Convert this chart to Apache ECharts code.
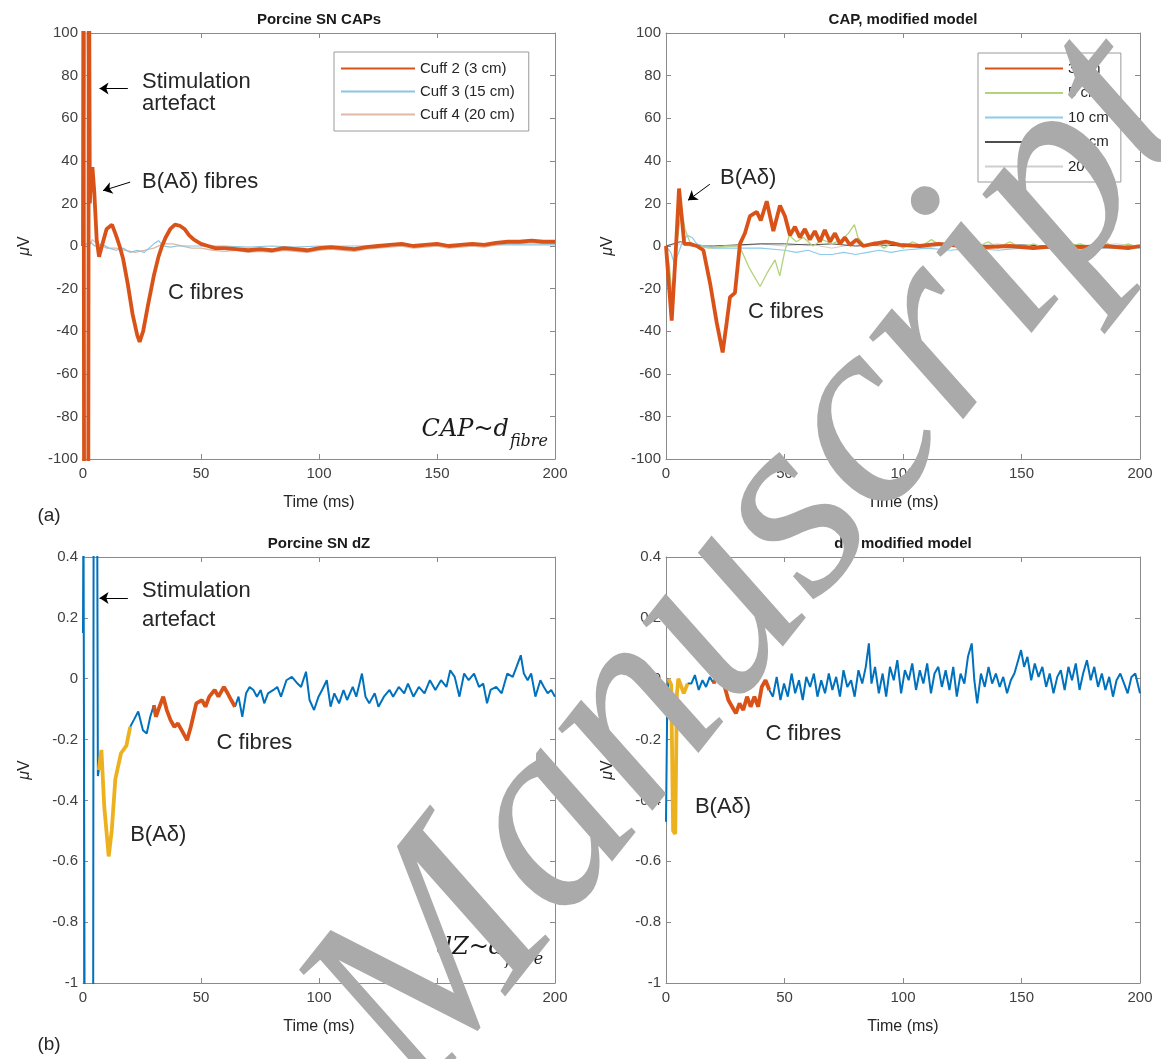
<!DOCTYPE html>
<html><head><meta charset="utf-8">
<script src="https://cdn.jsdelivr.net/npm/echarts@6/dist/echarts.min.js"></script>
<style>html,body{margin:0;padding:0;background:#fff}#c{width:1161px;height:1059px}</style>
</head><body><div id="c"></div>
<script>
// ---------- DATA ----------
const xTicks = [0, 50, 100, 150, 200];
const capTicks = [-100, -80, -60, -40, -20, 0, 20, 40, 60, 80, 100];
const dzTicks = [-1, -0.8, -0.6, -0.4, -0.2, 0, 0.2, 0.4];

// (a) left: Porcine SN CAPs
const cuff2 = [[0,0],[0.2,160],[0.5,-160],[2.2,-160],[2.5,160],[2.9,20],[3.5,35],[4,37],[4.8,25],[5.8,3],[6.8,-5],[8,0],[10,8],[12.3,10],[14,5],[15.5,0],[17,-6],[19,-18],[21,-32],[23,-42],[24,-45],[25.5,-40],[27.5,-28],[30,-14],[32,-5],[33.5,0],[35,4],[37,8],[39,10],[41,9.5],[43,8],[45,5],[47,3],[50,1],[53,0],[56,-1],[60,-1],[65,-1.5],[70,-2],[75,-1.5],[80,-2],[85,-1],[90,-1.5],[95,-2],[100,-1],[105,-0.5],[110,-1],[115,-1.5],[120,-0.5],[125,0],[130,0.5],[135,1],[140,0],[145,0.5],[150,1],[155,0],[160,0.5],[165,1],[170,0.5],[175,1.5],[180,2],[185,2],[190,2.5],[195,2],[200,2]];
const cuff3 = [[0,0],[3,2],[5,0],[8,1],[11,-1],[14,-2],[17,-1],[20,-3],[23,-2],[26,-3],[28,-1],[30,1],[32,2.5],[34,0],[37,-0.5],[40,0],[45,0],[50,0],[60,0],[70,-0.5],[80,0],[90,-0.5],[100,0],[120,0],[140,0.5],[160,0.5],[180,0.5],[200,0.5]];
const cuff4 = [[0,0],[1.8,150],[2.2,-150],[2.6,0],[4,3],[6,1],[8,0],[10,-1],[14,-1],[18,-2],[22,-3],[26,-2],[30,-1],[34,1],[38,1],[42,0],[46,-1],[50,-1],[55,-2],[60,-2.5],[65,-2],[70,-3],[75,-2.5],[80,-3],[85,-2],[90,-2.5],[95,-3],[100,-2],[105,-1.5],[110,-2],[115,-2.5],[120,-1.5],[125,-1],[130,-0.5],[135,0],[140,-1],[145,-0.5],[150,0],[155,-1],[160,-0.5],[165,0],[170,-0.5],[175,0.5],[180,1],[185,1],[190,1.5],[195,1],[200,1]];

// (a) right: CAP, modified model
const m3cm = [[0,0],[1,-15],[2.4,-35],[4,-5],[5.5,27],[7.7,1],[10,1],[13,0],[15.8,-2],[18.6,-17.5],[21.4,-36],[23.9,-50],[25.6,-36],[27,-24],[29.1,-22],[31.2,1],[33.3,6],[35.4,14],[38.3,16],[40,12],[42.5,21],[45.3,7],[48.1,19],[50.2,14],[52.3,5],[54.4,9],[56.5,4],[58.6,8],[60.7,3],[62.8,7],[64.9,2],[67,7.5],[69.2,2],[71.3,6],[73.4,1],[75.5,4],[77.6,0.5],[80.4,3],[83.2,0],[87.4,1],[93,2],[98.7,0.5],[107,0],[115,1],[125,0],[135,-0.5],[145,0],[155,-1],[165,0],[175,-0.5],[185,0],[195,-1],[200,0]];
const m5cm = [[0,0],[1.5,-10],[3,-30],[4.5,0],[6.5,18],[8,8],[10,2],[13,0],[18,-1],[25,0],[31,0],[35,-10],[39.7,-19],[42.5,-13],[46,-6.5],[48,-14],[50,-3],[52,5],[55,2],[58,4],[62,0],[66,3],[70,1],[74,3],[77,6],[79.5,10],[81,4],[84,0],[88,2],[92,-1],[96,2],[100,-1],[104,2],[108,0],[112,3],[116,0],[120,2],[124,-1],[128,3],[132,0],[136,2],[140,-1],[145,2],[150,-1],[155,1],[160,-1],[165,2],[170,0],[175,1],[180,-1],[185,2],[190,-1],[195,1],[200,-1]];
const m10cm = [[0,0],[2,-3],[3.5,-8],[5,-4],[7,2],[9,5],[11,4],[13,1],[16,0],[20,-1],[30,-1],[40,-1],[50,-2],[55,-3],[60,-2],[65,-4],[70,-4],[75,-3],[80,-4],[85,-3],[90,-2],[95,-3],[100,-2],[110,-1],[120,-2],[130,-1],[140,-2],[150,-1],[160,-1],[170,-2],[180,-1],[190,-1],[200,-1]];
const m15cm = [[0,0],[3,1],[6,2],[10,1],[15,0],[20,0],[30,0.5],[40,1],[50,1],[60,0.5],[70,1],[80,0],[90,0.5],[100,0],[110,0.5],[120,0],[130,0.5],[140,0],[150,0.5],[160,0],[170,0.5],[180,0],[190,0],[200,0]];
const m20cm = [[0,0],[5,1],[10,0],[20,-1],[30,0],[40,1],[50,0],[60,1],[70,-1],[80,1],[90,0],[100,1],[110,-1],[120,1],[130,0],[140,1],[150,-1],[160,0],[170,1],[180,0],[190,1],[200,0]];

// (b) left: Porcine SN dZ
const dzBlueA = [[0,0.15],[0.2,0.6],[0.7,-1.2],[4.3,-1.2],[4.5,0.6],[6,0.6],[6.3,-0.32],[6.7,-0.3]];
const dzYellow = [[6.7,-0.3],[7.8,-0.234],[9,-0.42],[10.9,-0.584],[12.2,-0.497],[13.7,-0.33],[16.1,-0.245],[18.4,-0.22],[20,-0.158]];
const dzBlueB = [[20,-0.158],[21.5,-0.136],[23.4,-0.108],[25.4,-0.169],[27,-0.18],[28.5,-0.125],[30,-0.087]];
const dzOrange = [[30,-0.087],[30.9,-0.125],[32.4,-0.092],[34,-0.059],[35.5,-0.103],[37.1,-0.136],[38.7,-0.158],[40.2,-0.147],[41.8,-0.169],[44.1,-0.202],[45.7,-0.158],[48,-0.081],[50.4,-0.07],[51.9,-0.092],[53.5,-0.059],[55.8,-0.037],[57.4,-0.059],[59.7,-0.027],[61.3,-0.048],[62.8,-0.07],[64.4,-0.092]];
const dzBlueC = [[64.4,-0.092],[65.9,-0.059],[67.5,-0.125],[69.1,-0.048],[70.6,-0.027],[72.2,-0.037],[73.7,-0.059],[75.3,-0.037],[76.8,-0.081],[78.4,-0.048],[80.7,-0.037],[82.3,-0.027],[83.9,-0.059],[86.2,-0.005],[88.5,0.006],[90.9,-0.016],[92.4,-0.027],[94.5,0.023],[96,-0.07],[97.9,-0.103],[99.8,-0.059],[101.3,-0.037],[103.3,-0.005],[104.9,-0.092],[106.5,-0.048],[108.5,-0.081],[110.4,-0.037],[111.9,-0.07],[114.3,-0.027],[115.8,-0.059],[118.2,0.017],[119.7,-0.059],[121.3,-0.081],[123.6,-0.048],[125.2,-0.092],[127.5,-0.059],[129.9,-0.037],[131.4,-0.059],[133.8,-0.027],[136.1,-0.048],[137.7,-0.016],[140,-0.059],[142.3,-0.027],[144.7,-0.048],[147,-0.005],[149.3,-0.037],[151.7,-0.005],[154,-0.027],[155.6,0.028],[157.5,0.006],[159.5,-0.059],[161.5,0.017],[163.4,-0.005],[165.7,0.017],[167.8,-0.027],[169.6,-0.016],[171.2,-0.081],[172.7,-0.037],[175.1,-0.027],[177.4,-0.048],[179.8,0.017],[182.1,0.006],[183.7,0.039],[185.5,0.077],[186.8,0.017],[188.4,-0.005],[189.9,0.017],[191.7,-0.059],[193.8,-0.005],[195.3,-0.027],[196.9,-0.048],[198.4,-0.037],[200,-0.059]];

// (b) right: dZ, modified model
const mdBlueA = [[0,-0.47],[0.5,-0.1],[1,0]];
const mdYellow = [[1,0],[2.2,-0.02],[3,-0.5],[3.9,-0.51],[4.6,-0.05],[5.2,0],[6,-0.005],[7.5,-0.048],[9.1,-0.016]];
const mdBlueB = [[9.1,-0.016],[10.7,-0.016],[12.2,0.012],[13.8,-0.037],[15.4,-0.005],[16.9,-0.027],[18.5,0.006],[20.1,-0.016]];
const mdOrange = [[20.1,-0.016],[21.6,0.011],[23.2,0.006],[24.8,-0.027],[26.3,-0.07],[27.9,-0.092],[29.5,-0.114],[31,-0.081],[32.6,-0.103],[34.2,-0.059],[35.7,-0.092],[37.3,-0.059],[38.9,-0.092],[40.4,-0.027],[42,-0.005],[43.6,-0.037]];
const mdBlueC = [[43.6,-0.037],[45.1,-0.059],[46.7,0.006],[48.3,-0.07],[49.8,-0.016],[51.4,-0.059],[53,0.017],[54.5,-0.048],[56.1,-0.005],[57.7,-0.07],[59.2,0.006],[60.8,-0.027],[62.4,0.017],[63.9,-0.059],[65.5,-0.005],[67.1,-0.048],[68.7,0.017],[70.2,-0.037],[71.8,0.006],[73.4,-0.059],[74.9,0.028],[76.5,-0.027],[78.1,-0.005],[79.6,-0.059],[81.2,0.028],[82.8,-0.016],[84.3,0.039],[85.6,0.116],[86.7,-0.016],[88.2,0.039],[89.8,-0.048],[91.4,0.017],[92.9,-0.059],[94.5,0.039],[96.1,-0.005],[97.6,0.061],[99.2,-0.048],[100.8,0.028],[102.4,-0.005],[103.9,0.05],[105.5,-0.037],[107.1,0.028],[108.6,-0.016],[110.2,0.05],[111.8,-0.048],[113.3,0.017],[114.9,0.039],[116.4,-0.027],[118,0.028],[119.6,-0.037],[121.2,0.039],[122.7,-0.059],[124.3,0.017],[125.9,-0.016],[127.4,0.072],[129,0.116],[130.1,-0.005],[131.3,-0.081],[132.9,0.017],[134.5,-0.027],[136.1,0.039],[137.6,-0.016],[139.2,0.017],[140.8,-0.027],[142.3,0.006],[143.9,-0.048],[145.5,-0.005],[147,0.017],[148.6,0.061],[149.8,0.094],[151.1,0.039],[152.5,0.072],[154.1,-0.005],[155.6,0.05],[157.2,0.006],[158.8,0.039],[160.4,-0.027],[161.9,0.017],[163.5,-0.048],[165.1,0.006],[166.6,0.028],[168.2,-0.037],[169.8,0.039],[171.3,-0.005],[172.9,0.05],[174.5,-0.037],[176,0.017],[177.6,0.061],[179.2,-0.005],[180.7,0.039],[182.3,-0.027],[183.9,0.017],[185.4,-0.037],[187,0.006],[188.6,-0.059],[190.1,-0.005],[191.7,0.017],[193.3,-0.016],[194.8,-0.048],[196.4,0.006],[198,0.017],[200,-0.048]];

// annotation arrows (data coords) per grid
const arrows = [
  {g:0, from:[19,74], to:[7,74]},
  {g:0, from:[20,30], to:[8.5,26]},
  {g:1, from:[18.5,29], to:[9.3,21.5]},
  {g:2, from:[19,0.265], to:[7,0.265]}
];
const labels = [
  {g:0, at:[25,77], text:'Stimulation'},
  {g:0, at:[25,66.5], text:'artefact'},
  {g:0, at:[25,30], text:'B(Aδ) fibres'},
  {g:0, at:[36,-22], text:'C fibres'},
  {g:1, at:[22.8,32], text:'B(Aδ)'},
  {g:1, at:[34.6,-31], text:'C fibres'},
  {g:2, at:[25,0.29], text:'Stimulation'},
  {g:2, at:[25,0.193], text:'artefact'},
  {g:2, at:[20,-0.513], text:'B(Aδ)'},
  {g:2, at:[56.6,-0.21], text:'C fibres'},
  {g:3, at:[42,-0.18], text:'C fibres'},
  {g:3, at:[12.2,-0.42], text:'B(Aδ)'}
];

// ---------- LAYOUT / STYLE ----------
const FONT = '"Liberation Sans", Arial, sans-serif';
const AX = '#8a8a8a';
const C_OR = '#D95319', C_BL = '#0072BD', C_YE = '#EDB120';
const grids = [
  {left:83, top:33, width:472, height:426},
  {left:666, top:33, width:474, height:426},
  {left:83, top:557, width:472, height:426},
  {left:666, top:557, width:474, height:426}
];
const titles = ['Porcine SN CAPs', 'CAP, modified model', 'Porcine SN dZ', 'dZ, modified model'];

const xAxes = [], yAxes = [];
grids.forEach((g, i) => {
  const cap = i < 2;
  xAxes.push({type:'value', gridIndex:i, min:0, max:200, interval:50, position:'bottom',
    name:'Time (ms)', nameLocation:'middle', nameGap:36,
    nameTextStyle:{fontFamily:FONT, fontSize:16, color:'#262626'},
    axisLine:{show:true, onZero:false, lineStyle:{color:AX}},
    axisTick:{inside:true, length:5, lineStyle:{color:AX}},
    axisLabel:{fontFamily:FONT, fontSize:15, color:'#404040', margin:7},
    splitLine:{show:false}});
  xAxes.push({type:'value', gridIndex:i, min:0, max:200, interval:50, position:'top',
    axisLine:{show:true, onZero:false, lineStyle:{color:AX}},
    axisTick:{inside:true, length:5, lineStyle:{color:AX}},
    axisLabel:{show:false}, splitLine:{show:false}});
  yAxes.push({type:'value', gridIndex:i, min: cap ? -100 : -1, max: cap ? 100 : 0.4, interval: cap ? 20 : 0.2,
    position:'left', name:'{i|μ}V', nameLocation:'middle', nameGap:50, nameRotate:90,
    nameTextStyle:{fontFamily:FONT, fontSize:16, color:'#262626', rich:{i:{fontStyle:'italic', fontFamily:FONT, fontSize:16, color:'#262626'}}},
    axisLine:{show:true, onZero:false, lineStyle:{color:AX}},
    axisTick:{inside:true, length:5, lineStyle:{color:AX}},
    axisLabel:{fontFamily:FONT, fontSize:15, color:'#404040', margin:5,
      formatter: v => String(+(+v).toFixed(1))},
    splitLine:{show:false}});
  yAxes.push({type:'value', gridIndex:i, min: cap ? -100 : -1, max: cap ? 100 : 0.4, interval: cap ? 20 : 0.2,
    position:'right',
    axisLine:{show:true, onZero:false, lineStyle:{color:AX}},
    axisTick:{inside:true, length:5, lineStyle:{color:AX}},
    axisLabel:{show:false}, splitLine:{show:false}});
});

function line(name, data, color, width, gi, z) {
  return {type:'line', name, data, xAxisIndex:gi*2, yAxisIndex:gi*2, showSymbol:false, symbol:'none',
    clip:true, z:z||2, silent:true, animation:false,
    lineStyle:{color, width}, itemStyle:{color}};
}

const series = [
  line('Cuff 4 (20 cm)', cuff4, '#e0b8a6', 1.3, 0, 2),
  line('Cuff 3 (15 cm)', cuff3, '#8cc5e3', 1.2, 0, 3),
  line('Cuff 2 (3 cm)', cuff2, C_OR, 3.8, 0, 4),
  line('20 cm', m20cm, '#cfcfcf', 1, 1, 2),
  line('15 cm', m15cm, '#4d4d4d', 1, 1, 3),
  line('10 cm', m10cm, '#8ccbea', 1.2, 1, 3),
  line('5 cm', m5cm, '#b3d37a', 1.3, 1, 3),
  line('3 cm', m3cm, C_OR, 3.8, 1, 5),
  line('dzA', dzBlueA, C_BL, 2, 2, 2),
  line('dzB', dzBlueB, C_BL, 2, 2, 2),
  line('dzC', dzBlueC, C_BL, 2, 2, 2),
  line('dzY', dzYellow, C_YE, 3.8, 2, 3),
  line('dzO', dzOrange, C_OR, 3.8, 2, 3),
  line('mdA', mdBlueA, C_BL, 2, 3, 2),
  line('mdB', mdBlueB, C_BL, 2, 3, 2),
  line('mdC', mdBlueC, C_BL, 2, 3, 2),
  line('mdY', mdYellow, C_YE, 3.8, 3, 3),
  line('mdO', mdOrange, C_OR, 3.8, 3, 3)
];
arrows.forEach(a => series.push({type:'lines', coordinateSystem:'cartesian2d', xAxisIndex:a.g*2, yAxisIndex:a.g*2,
  symbol:['none','arrow'], symbolSize:9, silent:true, z:10, animation:false,
  lineStyle:{color:'#000', width:1, opacity:1}, data:[{coords:[a.from, a.to]}]}));

const legendText = {fontFamily:FONT, fontSize:15, color:'#262626'};
const option = {
  animation:false,
  backgroundColor:'#fff',
  grid: grids.map(g => Object.assign({containLabel:false}, g)),
  xAxis: xAxes, yAxis: yAxes, series,
  legend: [
    {orient:'vertical', left:334, top:52, data:['Cuff 2 (3 cm)','Cuff 3 (15 cm)','Cuff 4 (20 cm)'],
     itemWidth:74, itemHeight:14, itemGap:8, padding:[9,14,9,6], borderColor:'#9a9a9a', borderWidth:1,
     itemStyle:{opacity:0},
     backgroundColor:'#fff', textStyle:legendText, selectedMode:false},
    {orient:'vertical', left:978, top:53, data:['3 cm','5 cm','10 cm','15 cm','20 cm'],
     itemWidth:78, itemHeight:14, itemGap:9.5, padding:[8,12,8,6], borderColor:'#9a9a9a', borderWidth:1,
     itemStyle:{opacity:0},
     backgroundColor:'#fff', textStyle:legendText, selectedMode:false}
  ]
};

const chart = echarts.init(document.getElementById('c'), null, {renderer:'canvas'});
chart.setOption(option);

// ---------- TEXT OVERLAYS ----------
const gfx = [];
titles.forEach((t, i) => {
  const g = grids[i];
  gfx.push({type:'text', x: g.left + g.width/2, y: g.top - 13, z:20,
    style:{text:t, fontFamily:FONT, fontWeight:'bold', fontSize:15, fill:'#1a1a1a', textAlign:'center', textVerticalAlign:'middle'}});
});
labels.forEach(l => {
  const p = chart.convertToPixel({gridIndex:l.g}, l.at);
  gfx.push({type:'text', x:p[0], y:p[1], z:20,
    style:{text:l.text, fontFamily:FONT, fontSize:22, fill:'#262626', textAlign:'left', textVerticalAlign:'middle'}});
});
gfx.push({type:'text', x:49, y:516, z:20, style:{text:'(a)', fontFamily:FONT, fontSize:19, fill:'#262626', textAlign:'center', textVerticalAlign:'middle'}});
gfx.push({type:'text', x:49, y:1045, z:20, style:{text:'(b)', fontFamily:FONT, fontSize:19, fill:'#262626', textAlign:'center', textVerticalAlign:'middle'}});

// formulas
const ctx = document.createElement('canvas').getContext('2d');
const SERIF = '"DejaVu Serif", "Liberation Serif", serif';
function w(text, size) { ctx.font = 'italic ' + size + 'px ' + SERIF; return ctx.measureText(text).width; }
function formula(gi, anchor, main, sup, sub) {
  const p = chart.convertToPixel({gridIndex:gi}, anchor); // right end, baseline
  const big = 24, small = 16;
  const wSub = w(sub, small), wSup = sup ? w(sup, small) : 0;
  const wMain = w(main, big);
  const right = p[0];
  const xSub = right - Math.max(wSub, wSup);
  const xMain = xSub - wMain - 1;
  gfx.push({type:'text', x:xMain, y:p[1], z:20, style:{text:main, fontFamily:SERIF, fontStyle:'italic', fontSize:big, fill:'#1a1a1a', textAlign:'left', textVerticalAlign:'bottom'}});
  gfx.push({type:'text', x:xSub, y:p[1] + 8, z:20, style:{text:sub, fontFamily:SERIF, fontStyle:'italic', fontSize:small, fill:'#1a1a1a', textAlign:'left', textVerticalAlign:'bottom'}});
  if (sup) gfx.push({type:'text', x:xSub, y:p[1] - 11, z:20, style:{text:sup, fontFamily:SERIF, fontSize:small, fill:'#1a1a1a', textAlign:'left', textVerticalAlign:'bottom'}});
}
formula(0, [197, -92], 'CAP~d', null, 'fibre');
formula(2, [195, -0.925], 'dZ~d', '2', 'fibre');

// watermark
gfx.push({type:'text', x:365, y:1058, rotation:0.9, z:50,
  style:{text:'Manuscript', fontFamily:'"Liberation Serif", serif', fontStyle:'italic', fontSize:272,
    fill:'#aaaaaa', textAlign:'left', textVerticalAlign:'middle'}});

chart.setOption({graphic: gfx});
</script>
</body></html>
